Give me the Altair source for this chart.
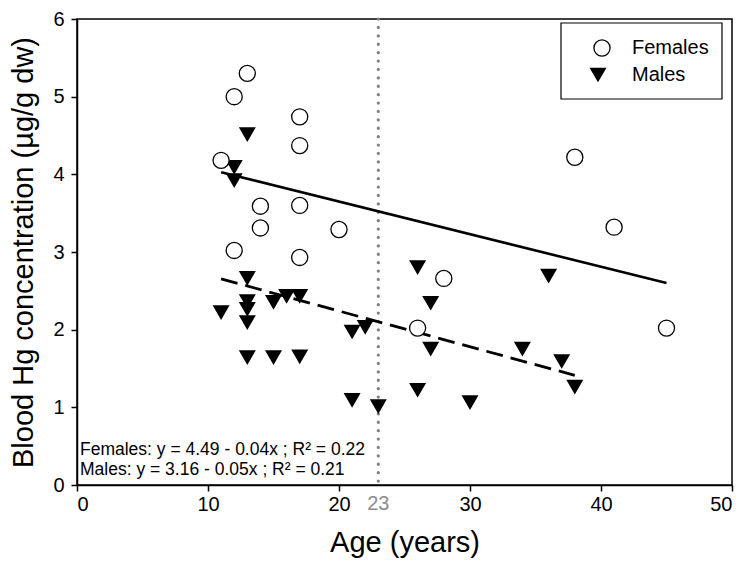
import altair as alt
import pandas as pd

# ---- data ----
fem_age = [11, 12, 12, 13, 14, 14, 17, 17, 17, 17, 20, 26, 28, 38, 41, 45]
fem_hg = [4.18, 5.00, 3.02, 5.30, 3.59, 3.31, 4.74, 4.37, 3.60, 2.93, 3.29, 2.02, 2.66, 4.22, 3.32, 2.02]

male_age = [11, 12, 12, 13, 13, 13, 13, 13, 13, 15, 15, 16, 17, 17, 21, 21, 22, 23, 26, 26, 27, 27, 30, 34, 36, 37, 38]
male_hg = [2.22, 4.09, 3.92, 4.51, 2.66, 2.36, 2.26, 2.09, 1.64, 2.35, 1.64, 2.43, 2.43, 1.65, 1.97, 1.09, 2.03, 1.01,
           2.80, 1.22, 2.34, 1.75, 1.06, 1.75, 2.69, 1.59, 1.26]

# regression fits: intercept, slope, age range
fit_group = ["Females", "Males"]
fit_intercept = [4.49, 3.16]
fit_slope = [-0.042, -0.046]
fit_start = [11, 11]
fit_end = [45, 38]

cutoff_age = [23]
equations = ["Females: y = 4.49 - 0.04x ; R² = 0.22", "Males: y = 3.16 - 0.05x ; R² = 0.21"]
legend_labels = ["Females", "Males"]

FONT = "Liberation Sans"
W, H = 655, 466

fem_df = pd.DataFrame({"age": fem_age, "hg": fem_hg})
male_df = pd.DataFrame({"age": male_age, "hg": male_hg})
rows = []
for g, b0, b1, s, e in zip(fit_group, fit_intercept, fit_slope, fit_start, fit_end):
    for a in (s, e):
        rows.append({"group": g, "age": a, "hg": b0 + b1 * a})
fit_df = pd.DataFrame(rows)
cut_df = pd.DataFrame({"age": cutoff_age})

xs = alt.Scale(domain=[0, 50], nice=False, zero=False)
ys = alt.Scale(domain=[0, 6], nice=False)

xax = alt.Axis(values=[0, 10, 20, 30, 40, 50], title="Age (years)", grid=False,
               labelPadding=3, titlePadding=14)
yax = alt.Axis(values=[0, 1, 2, 3, 4, 5, 6], title="Blood Hg concentration (µg/g dw)", grid=False,
               labelPadding=7, titlePadding=14, format="d")

X = alt.X("age:Q", scale=xs, axis=xax)
Y = alt.Y("hg:Q", scale=ys, axis=yax)

cut_rule = alt.Chart(cut_df).mark_rule(
    color="#808080", strokeWidth=3.2, strokeDash=[0.1, 8.3], strokeCap="round"
).encode(x=X)

cut_label = alt.Chart(cut_df).mark_text(
    font=FONT, fontSize=20, color="#8c8c8c", baseline="top"
).encode(x=X, y=alt.value(H + 9), text=alt.Text("age:Q"))

fem_line = alt.Chart(fit_df[fit_df.group == "Females"]).mark_line(
    color="black", strokeWidth=2.6
).encode(x=X, y=Y)

male_line = alt.Chart(fit_df[fit_df.group == "Males"]).mark_line(
    color="black", strokeWidth=2.8, strokeDash=[17, 8]
).encode(x=X, y=Y)

male_pts = alt.Chart(male_df).mark_point(
    shape="triangle-down", filled=True, color="black", size=289, opacity=1
).encode(x=X, y=Y)

fem_pts = alt.Chart(fem_df).mark_point(
    shape="circle", filled=True, fill="white", stroke="black", strokeWidth=1.3, size=260, opacity=1
).encode(x=X, y=Y)

# equation texts
eq_layers = []
for i, t in enumerate(equations):
    eq_layers.append(
        alt.Chart(pd.DataFrame({"t": [t]})).mark_text(
            font=FONT, fontSize=17.5, align="left", baseline="middle", color="black"
        ).encode(x=alt.value(3), y=alt.value(H - 35 + 20 * i), text="t:N")
    )

# legend box
leg_box = alt.Chart(pd.DataFrame({"k": [0]})).mark_rect(
    fill="white", stroke="black", strokeWidth=1.2
).encode(x=alt.value(484), x2=alt.value(645), y=alt.value(4), y2=alt.value(80))

leg_circle = alt.Chart(pd.DataFrame({"label": [legend_labels[0]]})).mark_point(
    shape="circle", filled=True, fill="white", stroke="black", strokeWidth=1.3, size=260, opacity=1
).encode(x=alt.value(525), y=alt.value(29))
leg_tri = alt.Chart(pd.DataFrame({"label": [legend_labels[1]]})).mark_point(
    shape="triangle-down", filled=True, color="black", size=289, opacity=1
).encode(x=alt.value(521), y=alt.value(56))
leg_texts = []
for i, lab in enumerate(legend_labels):
    leg_texts.append(
        alt.Chart(pd.DataFrame({"label": [lab]})).mark_text(
            font=FONT, fontSize=20, align="left", baseline="middle", color="black"
        ).encode(x=alt.value(555), y=alt.value(29 + 27 * i), text="label:N")
    )

chart = alt.layer(
    cut_rule, cut_label, fem_line, male_line, male_pts, fem_pts, *eq_layers,
    leg_box, leg_circle, leg_tri, *leg_texts,
).properties(
    width=W, height=H,
    autosize=alt.AutoSizeParams(type="none"),
    padding={"left": 69, "top": 11, "right": 8, "bottom": 88},
).configure_view(
    stroke="black", strokeWidth=1.5
).configure_axis(
    labelFont=FONT, titleFont=FONT, labelFontSize=20, titleFontSize=29,
    labelColor="black", titleColor="black", titleFontWeight="normal",
    domainColor="black", tickColor="black", domainWidth=1.5, tickWidth=1.5, tickSize=6,
)

chart.save("out.html", embed_options={"renderer": "svg", "actions": False})
